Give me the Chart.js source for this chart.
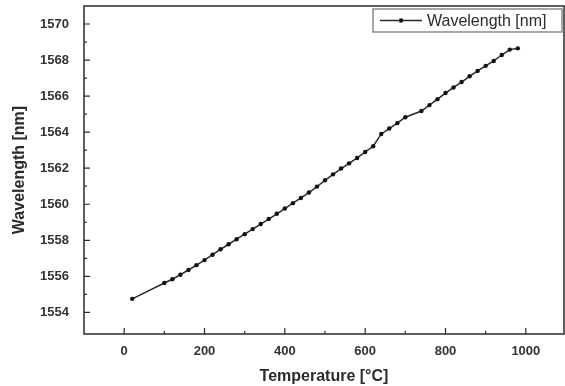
<!DOCTYPE html>
<html>
<head>
<meta charset="utf-8">
<script src="https://cdn.jsdelivr.net/npm/chart.js@4.4.0/dist/chart.umd.min.js"></script>
<style>
  html, body { margin: 0; padding: 0; background: #fff; }
  #wrap { width: 565px; height: 386px; }
</style>
</head>
<body>
<div id="wrap"><canvas id="chart"></canvas></div>
<script>
// data
const temps = [20, 100, 120, 140, 160, 180, 200, 220, 240, 260, 280, 300, 320, 340, 360, 380, 400,
  420, 440, 460, 480, 500, 520, 540, 560, 580, 600, 620, 640, 660, 680, 700, 740, 760, 780,
  800, 820, 840, 860, 880, 900, 920, 940, 960, 980];
const wavelength = [1554.75, 1555.63, 1555.84, 1556.09, 1556.35, 1556.62, 1556.9, 1557.2, 1557.5,
  1557.78, 1558.06, 1558.34, 1558.62, 1558.9, 1559.18, 1559.47, 1559.76, 1560.06, 1560.35,
  1560.65, 1560.98, 1561.33, 1561.66, 1561.98, 1562.27, 1562.57, 1562.9, 1563.22, 1563.9,
  1564.2, 1564.5, 1564.83, 1565.17, 1565.5, 1565.83, 1566.17, 1566.48, 1566.78, 1567.1,
  1567.4, 1567.68, 1567.95, 1568.28, 1568.58, 1568.65];

const xTicks = [0, 200, 400, 600, 800, 1000];
const xMinor = [100, 300, 500, 700, 900];
const yTicks = [1554, 1556, 1558, 1560, 1562, 1564, 1566, 1568, 1570];
const yMinor = [1555, 1557, 1559, 1561, 1563, 1565, 1567, 1569];

const seriesLabel = 'Wavelength [nm]';
const ink = '#2b2b2b';
const fontFam = '"Liberation Sans", Arial, sans-serif';

// frame, inward ticks and boxed legend
const framePlugin = {
  id: 'frame',
  afterDraw(chart) {
    const { ctx, chartArea: a, scales: { x, y } } = chart;
    ctx.save();
    ctx.strokeStyle = ink;
    ctx.lineWidth = 1.5;
    ctx.strokeRect(a.left, a.top, a.right - a.left, a.bottom - a.top);

    ctx.lineWidth = 1.2;
    ctx.beginPath();
    xTicks.forEach(v => { const p = x.getPixelForValue(v); ctx.moveTo(p, a.bottom); ctx.lineTo(p, a.bottom - 6); });
    xMinor.forEach(v => { const p = x.getPixelForValue(v); ctx.moveTo(p, a.bottom); ctx.lineTo(p, a.bottom - 3); });
    yTicks.forEach(v => { const p = y.getPixelForValue(v); ctx.moveTo(a.left, p); ctx.lineTo(a.left + 6, p); });
    yMinor.forEach(v => { const p = y.getPixelForValue(v); ctx.moveTo(a.left, p); ctx.lineTo(a.left + 3, p); });
    ctx.stroke();

    // legend box
    const bx = 373, by = 9, bw = 189, bh = 23;
    ctx.fillStyle = '#fff';
    ctx.fillRect(bx, by, bw, bh);
    ctx.strokeStyle = '#8a8a8a';
    ctx.lineWidth = 1.5;
    ctx.strokeRect(bx, by, bw, bh);
    const ly = by + bh / 2;
    ctx.strokeStyle = ink;
    ctx.lineWidth = 1.5;
    ctx.beginPath();
    ctx.moveTo(bx + 7, ly);
    ctx.lineTo(bx + 49, ly);
    ctx.stroke();
    ctx.fillStyle = '#111';
    ctx.beginPath();
    ctx.arc(bx + 28, ly, 2.2, 0, Math.PI * 2);
    ctx.fill();
    ctx.fillStyle = ink;
    ctx.font = '16px ' + fontFam;
    ctx.textBaseline = 'middle';
    ctx.textAlign = 'left';
    ctx.fillText(seriesLabel, bx + 54, ly + 1);
    ctx.restore();
  }
};

const ctx = document.getElementById('chart').getContext('2d');
new Chart(ctx, {
  type: 'line',
  data: {
    datasets: [{
      label: seriesLabel,
      data: temps.map((t, i) => ({ x: t, y: wavelength[i] })),
      borderColor: ink,
      borderWidth: 1.5,
      pointRadius: 2.2,
      pointBackgroundColor: '#111',
      pointBorderWidth: 0,
      tension: 0
    }]
  },
  options: {
    responsive: true,
    maintainAspectRatio: false,
    animation: false,
    layout: { autoPadding: false, padding: { top: 6, right: 1, left: 0, bottom: 0 } },
    plugins: {
      legend: { display: false },
      tooltip: { enabled: false }
    },
    scales: {
      x: {
        type: 'linear',
        min: -100,
        max: 1095,
        afterBuildTicks: s => { s.ticks = xTicks.map(v => ({ value: v })); },
        afterFit: s => {
          s.height = 52;
          s.paddingLeft = 0; s.paddingRight = 0; s.paddingTop = 0; s.paddingBottom = 0;
        },
        grid: { display: false, drawTicks: false },
        border: { display: false },
        ticks: {
          padding: 10, color: '#333',
          font: { family: fontFam, size: 13, weight: 'bold' },
          callback: v => String(v)
        },
        title: {
          display: true,
          text: 'Temperature [°C]',
          color: ink,
          padding: { top: 5, bottom: 0 },
          font: { family: fontFam, size: 16, weight: 'bold' }
        }
      },
      y: {
        min: 1552.8,
        max: 1571,
        afterBuildTicks: s => { s.ticks = yTicks.map(v => ({ value: v })); },
        afterFit: s => {
          s.width = 84;
          s.paddingLeft = 0; s.paddingRight = 0; s.paddingTop = 0; s.paddingBottom = 0;
        },
        grid: { display: false, drawTicks: false },
        border: { display: false },
        ticks: {
          padding: 15, color: '#333',
          font: { family: fontFam, size: 13, weight: 'bold' },
          callback: v => String(v)
        },
        title: {
          display: true,
          text: 'Wavelength [nm]',
          color: ink,
          padding: { top: 10, bottom: 0 },
          font: { family: fontFam, size: 16, weight: 'bold' }
        }
      }
    }
  },
  plugins: [framePlugin]
});
</script>
</body>
</html>
